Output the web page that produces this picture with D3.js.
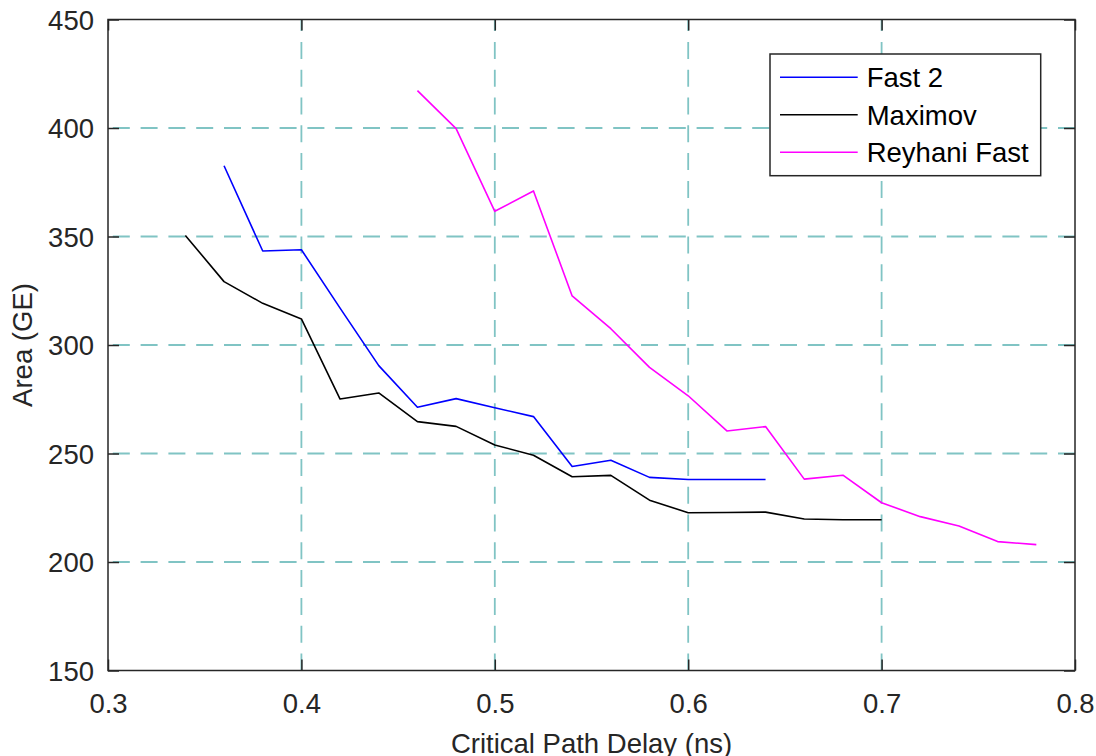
<!DOCTYPE html>
<html>
<head>
<meta charset="utf-8">
<script src="https://cdn.jsdelivr.net/npm/d3@7"></script>
<style>
  body { margin: 0; background: #fff; }
  svg { display: block; font-family: "Liberation Sans", Arial, Helvetica, sans-serif; }
</style>
</head>
<body>
<div id="chart"></div>
<script>
// Data
var xFast2 = [0.36, 0.38, 0.40, 0.42, 0.44, 0.46, 0.48, 0.50, 0.52, 0.54, 0.56, 0.58, 0.60, 0.62, 0.64];
var areaFast2 = [382.6, 343.3, 343.9, 317, 290.5, 271.3, 275.3, 271.1, 267, 244, 246.9, 239, 238, 238, 238];

var xMaximov = [0.34, 0.36, 0.38, 0.40, 0.42, 0.44, 0.46, 0.48, 0.50, 0.52, 0.54, 0.56, 0.58, 0.60, 0.62, 0.64, 0.66, 0.68, 0.70];
var areaMaximov = [350.5, 329.2, 319.2, 312, 275.1, 277.9, 264.7, 262.5, 253.9, 249.2, 239.3, 239.9, 228.5, 222.7, 222.8, 223.0, 219.8, 219.5, 219.5];

var xReyhani = [0.46, 0.48, 0.50, 0.52, 0.54, 0.56, 0.58, 0.60, 0.62, 0.64, 0.66, 0.68, 0.70, 0.72, 0.74, 0.76, 0.78];
var areaReyhani = [417.2, 399.7, 361.6, 371, 322.6, 307.5, 289.7, 276.6, 260.4, 262.4, 238.2, 240.0, 227.3, 220.9, 216.6, 209.4, 208.0];

var seriesNames = ["Fast 2", "Maximov", "Reyhani Fast"];
var seriesColors = ["#0000ff", "#000000", "#ff00ff"];

var xTicks = [0.3, 0.4, 0.5, 0.6, 0.7, 0.8];
var yTicks = [150, 200, 250, 300, 350, 400, 450];

var series = [
    {name: seriesNames[0], color: seriesColors[0], xs: xFast2, ys: areaFast2},
    {name: seriesNames[1], color: seriesColors[1], xs: xMaximov, ys: areaMaximov},
    {name: seriesNames[2], color: seriesColors[2], xs: xReyhani, ys: areaReyhani}
];

var W = 1096, H = 756;
var margin = {top: 19.5, right: 21, bottom: 85.5, left: 108};
var width = W - margin.left - margin.right,
    height = H - margin.top - margin.bottom;

var axisColor = "#262626";
var gridColor = "#80c4c4";
var fontSize = 27.5;

var svg = d3.select("#chart").append("svg")
    .attr("width", W)
    .attr("height", H);

var g = svg.append("g")
    .attr("transform", "translate(" + margin.left + "," + margin.top + ")");

var x = d3.scaleLinear().domain([0.3, 0.8]).range([0, width]);
var y = d3.scaleLinear().domain([150, 450]).range([height, 0]);

// grid (dashed). vertical ones start at the bottom, horizontal ones at the right
g.append("g").selectAll("line.vgrid")
    .data(xTicks.slice(1, -1))
    .enter().append("line")
    .attr("class", "vgrid")
    .attr("x1", function(d) { return x(d); })
    .attr("x2", function(d) { return x(d); })
    .attr("y1", height)
    .attr("y2", 0)
    .attr("stroke", gridColor)
    .attr("stroke-width", 1.8)
    .attr("stroke-dasharray", "17,10.8");

g.append("g").selectAll("line.hgrid")
    .data(yTicks.slice(1, -1))
    .enter().append("line")
    .attr("class", "hgrid")
    .attr("x1", width)
    .attr("x2", 0)
    .attr("y1", function(d) { return y(d); })
    .attr("y2", function(d) { return y(d); })
    .attr("stroke", gridColor)
    .attr("stroke-width", 1.8)
    .attr("stroke-dasharray", "17,10.8");

// data lines
var line = d3.line()
    .x(function(d) { return x(d[0]); })
    .y(function(d) { return y(d[1]); });

g.selectAll(".series")
    .data(series)
    .enter().append("path")
    .attr("class", "series")
    .attr("fill", "none")
    .attr("stroke", function(d) { return d.color; })
    .attr("stroke-width", 1.6)
    .attr("stroke-linejoin", "round")
    .attr("d", function(d) { return line(d3.zip(d.xs, d.ys)); });

// axes, ticks pointing inward
function styleAxis(sel) {
    sel.select(".domain").remove();
    sel.selectAll(".tick line").attr("stroke", axisColor).attr("stroke-width", 1.5);
    sel.selectAll(".tick text")
        .attr("fill", axisColor)
        .style("font-size", fontSize + "px")
        .style("font-family", "'Liberation Sans', Arial, Helvetica, sans-serif");
}

var xAxis = g.append("g")
    .attr("transform", "translate(0," + height + ")")
    .call(d3.axisBottom(x).tickValues(xTicks).tickFormat(d3.format(".1f")).tickSize(-11).tickSizeOuter(0))
    .call(styleAxis);
xAxis.selectAll(".tick text").attr("y", 42.5).attr("dy", null);

g.append("g")
    .call(d3.axisTop(x).tickValues(xTicks).tickFormat("").tickSize(-11).tickSizeOuter(0))
    .call(styleAxis);

var yAxis = g.append("g")
    .call(d3.axisLeft(y).tickValues(yTicks).tickSize(-11).tickSizeOuter(0))
    .call(styleAxis);
yAxis.selectAll(".tick text").attr("x", -14).attr("dy", "0.36em");

g.append("g")
    .attr("transform", "translate(" + width + ",0)")
    .call(d3.axisRight(y).tickValues(yTicks).tickFormat("").tickSize(-11).tickSizeOuter(0))
    .call(styleAxis);

// box
g.append("rect")
    .attr("x", 0).attr("y", 0)
    .attr("width", width).attr("height", height)
    .attr("fill", "none")
    .attr("stroke", axisColor)
    .attr("stroke-width", 1.5);

// axis labels (x label is clipped by the bottom edge, as in the original)
svg.append("text")
    .attr("x", margin.left + width / 2)
    .attr("y", 752.5)
    .attr("text-anchor", "middle")
    .attr("fill", axisColor)
    .style("font-size", fontSize + "px")
    .text("Critical Path Delay (ns)");

svg.append("text")
    .attr("transform", "translate(32," + (margin.top + height / 2) + ") rotate(-90)")
    .attr("text-anchor", "middle")
    .attr("fill", axisColor)
    .style("font-size", fontSize + "px")
    .text("Area (GE)");

// legend
var legend = svg.append("g").attr("transform", "translate(770,54)");
legend.append("rect")
    .attr("width", 270.7).attr("height", 121.7)
    .attr("fill", "#fff")
    .attr("stroke", axisColor)
    .attr("stroke-width", 1.5);

var rows = legend.selectAll(".row")
    .data(series)
    .enter().append("g")
    .attr("class", "row")
    .attr("transform", function(d, i) { return "translate(0," + (23.3 + i * 37.5) + ")"; });

rows.append("line")
    .attr("x1", 10).attr("x2", 87.7)
    .attr("stroke", function(d) { return d.color; })
    .attr("stroke-width", 1.6);

rows.append("text")
    .attr("x", 96.7)
    .attr("y", 10)
    .attr("fill", "#000")
    .style("font-size", fontSize + "px")
    .text(function(d) { return d.name; });
</script>
</body>
</html>
